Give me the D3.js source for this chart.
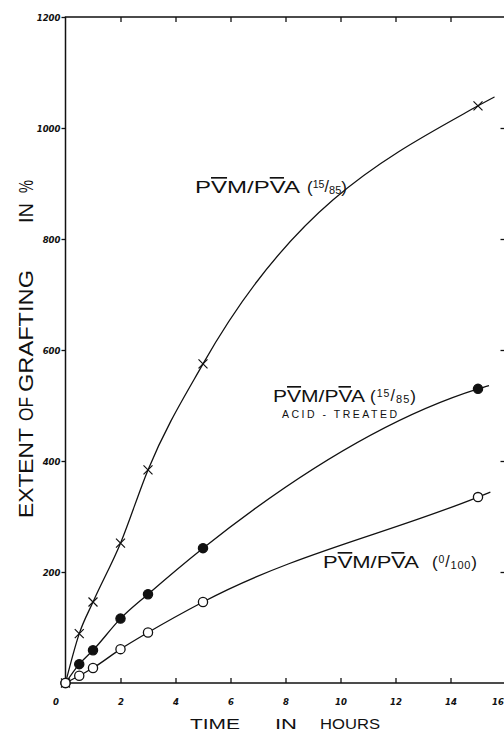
<!DOCTYPE html>
<html>
<head>
<meta charset="utf-8">
<script src="https://cdn.jsdelivr.net/npm/d3@7/dist/d3.min.js"></script>
<style>
  html, body { margin: 0; padding: 0; background: #fff; }
  svg { display: block; }
</style>
</head>
<body>
<svg id="chart" width="504" height="734"></svg>
<script>
// ---- data ----
const hours = [0, 0.5, 1, 2, 3, 5, 15];
const graftPlain = [0, 89, 146, 252, 384, 575, 1040];   // × PVM/PVA (15/85)
const graftAcid  = [0, 34, 59, 116, 160, 243, 530];     // ● PVM/PVA (15/85) acid-treated
const graftZero  = [0, 13, 27, 61, 91, 146, 335];       // ○ PVM/PVA (0/100)
// where each drawn curve stops on the right
const curveEndHours  = [15.6, 15.4, 15.45];
const curveEndValues = [1056, 536, 344];
const xTicks = [0, 2, 4, 6, 8, 10, 12, 14, 16];
const yTicks = [200, 400, 600, 800, 1000, 1200];
const xTitleWords = ["TIME", "IN", "HOURS"];
const yTitleWords = ["EXTENT", "OF", "GRAFTING", "IN", "%"];

const svg = d3.select("#chart");
const x = d3.scaleLinear().domain([0, 16]).range([65.5, 505.5]);
const y = d3.scaleLinear().domain([0, 1200]).range([683, 17]);

const tickFont = "'DejaVu Sans Condensed', 'DejaVu Sans', sans-serif";
const letterFont = "'Liberation Sans', Arial, sans-serif";

// ---- frame ----
svg.append("rect")
  .attr("x", x(0)).attr("y", y(1200))
  .attr("width", x(16) - x(0)).attr("height", y(0) - y(1200))
  .attr("fill", "none").attr("stroke", "#111").attr("stroke-width", 1.5);

function styleAxis(g) {
  g.select(".domain").remove();
  g.selectAll("line").attr("stroke", "#111").attr("stroke-width", 1.3);
  g.selectAll("text")
    .attr("font-family", tickFont).attr("font-weight", "bold")
    .attr("font-style", "italic").attr("font-size", 9.5).attr("fill", "#111");
}

// bottom axis: inward ticks, labels below
const gx = svg.append("g").attr("transform", `translate(0,${y(0)})`)
  .call(d3.axisBottom(x).tickValues(xTicks).tickSize(-5).tickSizeOuter(0).tickPadding(15).tickFormat(d3.format("d")))
  .call(styleAxis);
gx.selectAll(".tick").filter(d => d === 0).select("line").remove();
gx.selectAll(".tick").filter(d => d === 0).select("text").attr("dx", -10);
gx.selectAll(".tick").filter(d => d === 16).select("line").remove();
gx.selectAll(".tick").filter(d => d === 16).select("text").attr("text-anchor", "end").attr("dx", -2);

// top axis: inward ticks, no labels
svg.append("g").attr("transform", `translate(0,${y(1200)})`)
  .call(d3.axisTop(x).tickValues(xTicks.slice(1, -1)).tickSize(-5).tickSizeOuter(0).tickFormat(""))
  .call(styleAxis);

// left axis: outward ticks with labels
svg.append("g").attr("transform", `translate(${x(0)},0)`)
  .call(d3.axisLeft(y).tickValues(yTicks).tickSize(4).tickSizeOuter(0).tickPadding(1).tickFormat(d3.format("d")))
  .call(styleAxis);

// right axis: inward ticks, no labels
svg.append("g").attr("transform", `translate(${x(16)},0)`)
  .call(d3.axisRight(y).tickValues(yTicks.slice(0, -1)).tickSize(-5).tickSizeOuter(0).tickFormat(""))
  .call(styleAxis);

// ---- axis titles ----
const xTitleX = [190, 275, 320];
const xTitleLen = [50, 22, 60];
xTitleWords.forEach((w, i) => {
  svg.append("text").attr("x", xTitleX[i]).attr("y", 729)
    .attr("font-family", letterFont).attr("font-size", 15).attr("fill", "#111")
    .attr("textLength", xTitleLen[i]).attr("lengthAdjust", "spacingAndGlyphs").text(w);
});
const yTitleStart = [518, 421, 392, 223, 193];
const yTitleLen = [90, 24, 122, 20, 13];
yTitleWords.forEach((w, i) => {
  svg.append("text")
    .attr("transform", `translate(33,${yTitleStart[i]}) rotate(-90)`)
    .attr("font-family", letterFont).attr("font-size", 21).attr("fill", "#111")
    .attr("textLength", yTitleLen[i]).attr("lengthAdjust", "spacingAndGlyphs").text(w);
});

// ---- curves ----
const series = [
  { values: graftPlain, marker: "cross" },
  { values: graftAcid,  marker: "filled" },
  { values: graftZero,  marker: "open" }
];
const line = d3.line().x(d => x(d[0])).y(d => y(d[1])).curve(d3.curveMonotoneX);

series.forEach((s, i) => {
  const pts = hours.map((h, j) => [h, s.values[j]]);
  pts.push([curveEndHours[i], curveEndValues[i]]);
  svg.append("path").datum(pts).attr("d", line)
    .attr("fill", "none").attr("stroke", "#111").attr("stroke-width", 1.3);
});

series.forEach(s => {
  const pts = hours.map((h, j) => [h, s.values[j]]);
  const g = svg.append("g");
  if (s.marker === "cross") {
    const r = 4.5;
    g.selectAll("path").data(pts).join("path")
      .attr("d", d => {
        const cx = x(d[0]), cy = y(d[1]);
        return `M${cx - r},${cy - r}L${cx + r},${cy + r}M${cx - r},${cy + r}L${cx + r},${cy - r}`;
      })
      .attr("stroke", "#111").attr("stroke-width", 1.2).attr("fill", "none");
  } else {
    g.selectAll("circle").data(pts).join("circle")
      .attr("cx", d => x(d[0])).attr("cy", d => y(d[1])).attr("r", 4.6)
      .attr("fill", s.marker === "filled" ? "#111" : "#fff")
      .attr("stroke", "#111").attr("stroke-width", 1.3);
  }
});

// ---- curve labels ----
function curveLabel(mx, baseline, mainLen, fx, fLen, num, den) {
  const t = svg.append("text").attr("x", mx).attr("y", baseline)
    .attr("font-family", letterFont).attr("font-size", 16.5).attr("fill", "#111")
    .attr("textLength", mainLen).attr("lengthAdjust", "spacingAndGlyphs");
  "PVM/PVA".split("").forEach(ch => {
    const ts = t.append("tspan").text(ch);
    if (ch === "V") ts.style("text-decoration", "overline");
  });
  const f = svg.append("text").attr("x", fx).attr("y", baseline)
    .attr("font-family", letterFont).attr("fill", "#111")
    .attr("textLength", fLen).attr("lengthAdjust", "spacing");
  f.append("tspan").attr("font-size", 17).text("(");
  f.append("tspan").attr("font-size", 10.5).attr("dy", -5).text(num);
  f.append("tspan").attr("font-size", 16).attr("dy", 4).text("/");
  f.append("tspan").attr("font-size", 11).attr("dy", 2).text(den);
  f.append("tspan").attr("font-size", 17).attr("dy", -1).text(")");
}
curveLabel(195, 193, 105, 307, 40, "15", "85");
curveLabel(273, 402, 92, 370, 46, "15", "85");
svg.append("text").attr("x", 282).attr("y", 418)
  .attr("font-family", letterFont).attr("font-size", 10.5).attr("fill", "#111")
  .attr("textLength", 115).attr("lengthAdjust", "spacing").text("ACID - TREATED");
curveLabel(323, 568, 96, 432, 45, "0", "100");
</script>
</body>
</html>
